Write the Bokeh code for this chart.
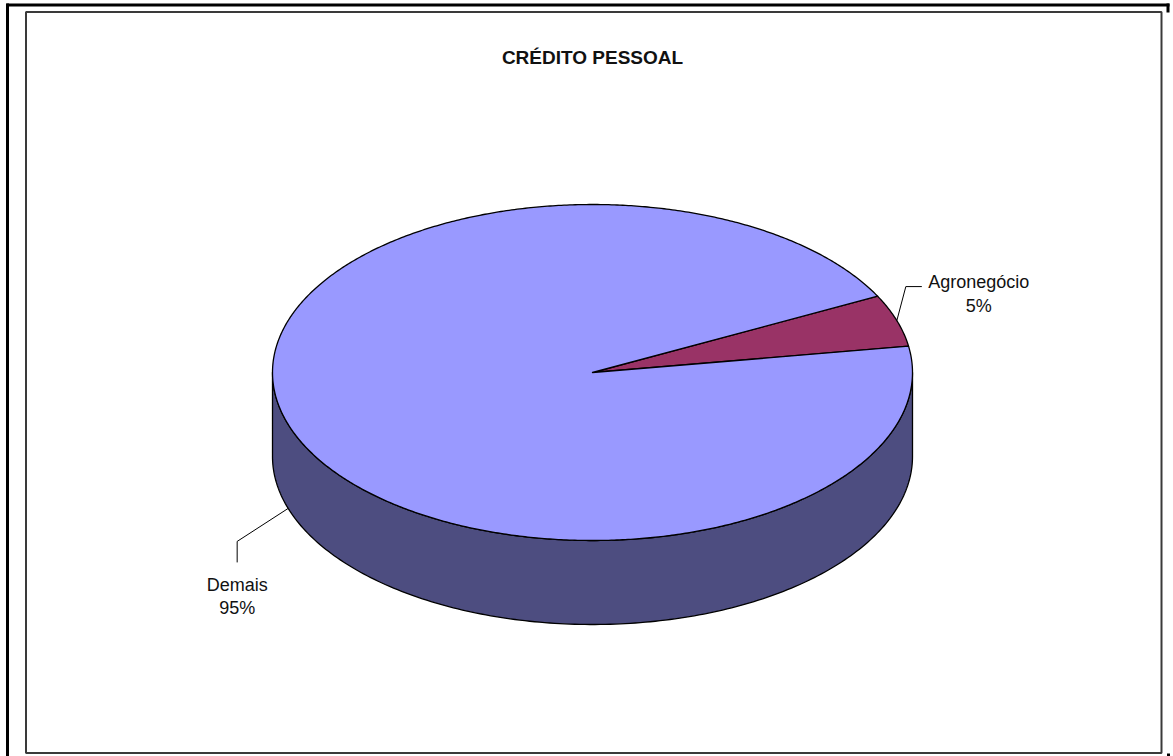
import numpy as np
from bokeh.plotting import figure
from bokeh.models import Range1d
from bokeh.core.properties import value
from bokeh.embed import file_html
from bokeh.resources import INLINE

# ---------------- data ----------------
title = "CRÉDITO PESSOAL"
categories = ["Agronegócio", "Demais"]
values = [5, 95]
percent_labels = ["5%", "95%"]

# ---------------- style / layout ----------------
top_colors = ["#993366", "#9999FF"]
side_colors = ["#4D1A33", "#4D4D80"]
W, H = 1173, 756
CX, CY = 592, 372          # centre of top ellipse (screen px)
A, B = 320, 168            # semi-axes of top ellipse
DEPTH = 84                 # thickness of the 3-D pie
START = 27.0               # angle (deg, counter-clockwise) where the first slice begins
FONT = "Liberation Sans"
# leader line layout per label: elbow offset from anchor, tail offset from elbow,
# text offsets (dx, dy line1, dy line2) from tail end
ELBOW = [(9, -34), (-51, 33)]
TAIL = [(16, 0), (0, 21)]
TEXT_OFF = [(57, -5, 19), (0, 23, 46)]

p = figure(width=W, height=H, x_range=Range1d(0, W), y_range=Range1d(H, 0),
           output_backend="svg", toolbar_location=None, min_border=0,
           x_axis_type=None, y_axis_type=None)
p.grid.visible = False
p.outline_line_color = None
p.background_fill_color = "white"
p.border_fill_color = "white"


def ell(t_deg, dy=0.0):
    t = np.radians(t_deg)
    return CX + A * np.cos(t), CY - B * np.sin(t) + dy


total = float(sum(values))
slices = []
cur = START
for v in values:
    span = 360.0 * v / total
    slices.append((cur, cur - span))
    cur -= span

# --- side walls (front half only) ---
for i, (t1, t2) in enumerate(slices):
    for k in range(-2, 2):
        lo = max(t2, 180 + 360 * k)
        hi = min(t1, 360 + 360 * k)
        if hi > lo:
            ts = np.linspace(lo, hi, 200)
            xt, yt = ell(ts)
            xb, yb = ell(ts[::-1], DEPTH)
            p.patch(np.concatenate([xt, xb]), np.concatenate([yt, yb]),
                    fill_color=side_colors[i], line_color="black",
                    line_width=1.3, line_join="round")

# --- top slices ---
for i, (t1, t2) in enumerate(slices):
    n = max(10, int(abs(t1 - t2) * 2))
    ts = np.linspace(t1, t2, n)
    xa, ya = ell(ts)
    p.patch(np.concatenate([[CX], xa]), np.concatenate([[CY], ya]),
            fill_color=top_colors[i], line_color="black",
            line_width=1.3, line_join="round")

# --- leader lines and labels ---
for i, (t1, t2) in enumerate(slices):
    mid = (t1 + t2) / 2.0
    dy = DEPTH if np.sin(np.radians(mid)) < 0 else 0.0
    ax, ay = ell(mid, dy)
    ex, ey = ax + ELBOW[i][0], ay + ELBOW[i][1]
    tx, ty = ex + TAIL[i][0], ey + TAIL[i][1]
    p.line([ax, ex, tx], [ay, ey, ty], line_color="black", line_width=1)
    ox, o1, o2 = TEXT_OFF[i]
    p.text(x=[tx + ox, tx + ox], y=[ty + o1, ty + o2],
           text=[categories[i], percent_labels[i]],
           text_font=value(FONT), text_font_size=value("18px"),
           text_align="center", text_baseline="alphabetic", text_color="#111111")

# --- title ---
p.text(x=[592], y=[57], text=[title], text_font=value(FONT),
       text_font_size=value("19px"), text_font_style="bold",
       text_align="center", text_baseline="alphabetic", text_color="#111111")

# --- chart frame and page border fragments ---
p.quad(left=[25.5], right=[1161], top=[11.5], bottom=[752.5],
       fill_color=None, line_color="#3a3a3a", line_width=2)
p.line([6, 1169], [4.5, 4.5], line_color="black", line_width=3)
p.line([7, 7], [3, 756], line_color="black", line_width=3)
p.line([1167.5, 1167.5], [3, 12], line_color="black", line_width=3)
p.quad(left=[1166.5], right=[1169.5], top=[753], bottom=[756],
       fill_color="black", line_color=None)

open("out.html", "w").write(file_html(p, INLINE))
